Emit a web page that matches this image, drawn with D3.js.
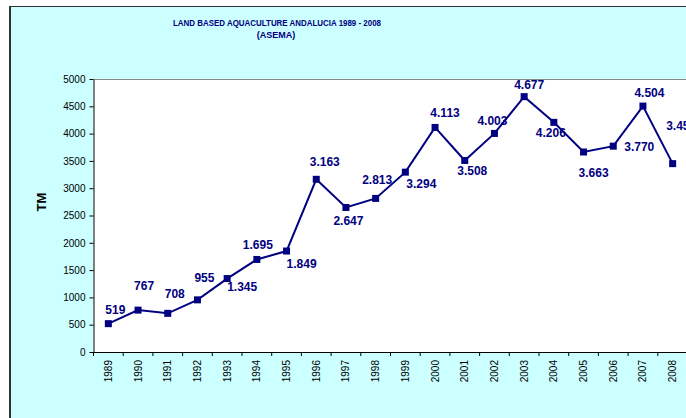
<!DOCTYPE html>
<html>
<head>
<meta charset="utf-8">
<script src="https://cdn.jsdelivr.net/npm/d3@7"></script>
<style>
  body { margin: 0; background: #fff; }
  svg { display: block; font-family: "Liberation Sans", Arial, sans-serif; }
</style>
</head>
<body>
<svg id="chart" width="686" height="418"></svg>
<script>
// Data
const years = ["1989", "1990", "1991", "1992", "1993", "1994", "1995", "1996", "1997", "1998",
               "1999", "2000", "2001", "2002", "2003", "2004", "2005", "2006", "2007", "2008"];
const tonnes = [519, 767, 708, 955, 1345, 1695, 1849, 3163, 2647, 2813,
                3294, 4113, 3508, 4003, 4677, 4206, 3663, 3770, 4504, 3450];
const yTicks = [0, 500, 1000, 1500, 2000, 2500, 3000, 3500, 4000, 4500, 5000];

// Hand-placed label nudges (dx, baseline dy) relative to each point
const labelNudge = [
  [7, -10], [6, -20], [7, -15], [7, -18], [15, 12.5], [1, -10.5], [15, 17], [8.5, -13.5],
  [2.5, 17.5], [1.5, -14], [16, 16], [10, -10], [7.5, 14.5], [-2, -8], [5, -7.5],
  [-3, 15], [10, 25], [26, 4.5], [6.5, -9.5], [8.5, -34]
];

const navy = "#000080";
const svg = d3.select("#chart");

// outer chart area
svg.append("rect").attr("x", 10).attr("y", 6).attr("width", 700).attr("height", 430)
  .attr("fill", "#ccffff");
svg.append("line").attr("x1", 9).attr("x2", 700).attr("y1", 6.5).attr("y2", 6.5)
  .attr("stroke", "#333").attr("stroke-width", 1);
svg.append("line").attr("x1", 10).attr("x2", 10).attr("y1", 6).attr("y2", 430)
  .attr("stroke", "#333").attr("stroke-width", 2);

// titles
svg.append("text").attr("x", 277).attr("y", 26).attr("text-anchor", "middle")
  .attr("font-size", 9).attr("font-weight", "bold").attr("fill", navy)
  .attr("textLength", 208).attr("lengthAdjust", "spacingAndGlyphs")
  .text("LAND BASED AQUACULTURE ANDALUCIA  1989 - 2008");
svg.append("text").attr("x", 276).attr("y", 38).attr("text-anchor", "middle")
  .attr("font-size", 9).attr("font-weight", "bold").attr("fill", navy)
  .text("(ASEMA)");

// scales
const plotL = 93.5, plotR = 687.5, plotT = 79, plotB = 352;
const x = d3.scaleBand().domain(years).range([plotL, plotR]).padding(0);
const y = d3.scaleLinear().domain([0, 5000]).range([plotB, plotT]);

// plot area
svg.append("rect").attr("x", plotL).attr("y", plotT).attr("width", plotR - plotL).attr("height", plotB - plotT)
  .attr("fill", "#fff");
svg.append("line").attr("x1", plotL).attr("x2", 690).attr("y1", plotT + 0.5).attr("y2", plotT + 0.5)
  .attr("stroke", "#888");

// y axis
const yAxis = svg.append("g").attr("transform", `translate(${plotL},0)`)
  .call(d3.axisLeft(y).tickValues(yTicks).tickFormat(d3.format("d"))
    .tickSize(4).tickSizeOuter(0).tickPadding(4));
yAxis.selectAll("text").attr("font-size", 10).attr("font-family", "Liberation Sans, Arial").attr("fill", "#000");
yAxis.selectAll("line, path").attr("stroke", "#000");

// x axis: labels at centres, ticks at band boundaries
const xAxis = svg.append("g").attr("transform", `translate(0,${plotB})`)
  .call(d3.axisBottom(x).tickSize(0).tickSizeOuter(0));
xAxis.select("path").attr("stroke", "#000");
xAxis.selectAll("text")
  .attr("font-size", 10).attr("font-family", "Liberation Sans, Arial").attr("fill", "#000")
  .attr("text-anchor", "end").attr("transform", "rotate(-90)")
  .attr("x", -8).attr("y", 0).attr("dy", "0.35em");
xAxis.selectAll(".bound").data(years.concat(["end"])).join("line")
  .attr("class", "bound")
  .attr("x1", (d, i) => i < years.length ? x(d) : plotR)
  .attr("x2", (d, i) => i < years.length ? x(d) : plotR)
  .attr("y1", 0).attr("y2", 4).attr("stroke", "#000");

// axis title
svg.append("text").attr("transform", "translate(46,202) rotate(-90)")
  .attr("text-anchor", "middle").attr("font-size", 13).attr("font-weight", "bold")
  .text("TM");

// series
const pts = years.map((yr, i) => ({ yr, v: tonnes[i], i }));
const cx = d => x(d.yr) + x.bandwidth() / 2;

svg.append("path").datum(pts)
  .attr("fill", "none").attr("stroke", navy).attr("stroke-width", 2)
  .attr("d", d3.line().x(cx).y(d => y(d.v)));

svg.selectAll(".mark").data(pts).join("rect").attr("class", "mark")
  .attr("x", d => cx(d) - 3.5).attr("y", d => y(d.v) - 3.5)
  .attr("width", 7).attr("height", 7).attr("fill", navy);

const es = d3.formatLocale({ decimal: ",", thousands: ".", grouping: [3], currency: ["", ""] });
const fmt = es.format(",d");

svg.selectAll(".lbl").data(pts).join("text").attr("class", "lbl")
  .attr("x", d => cx(d) + labelNudge[d.i][0])
  .attr("y", d => y(d.v) + labelNudge[d.i][1])
  .attr("text-anchor", "middle").attr("font-size", 12).attr("font-weight", "bold")
  .attr("fill", navy)
  .text(d => fmt(d.v));
</script>
</body>
</html>
